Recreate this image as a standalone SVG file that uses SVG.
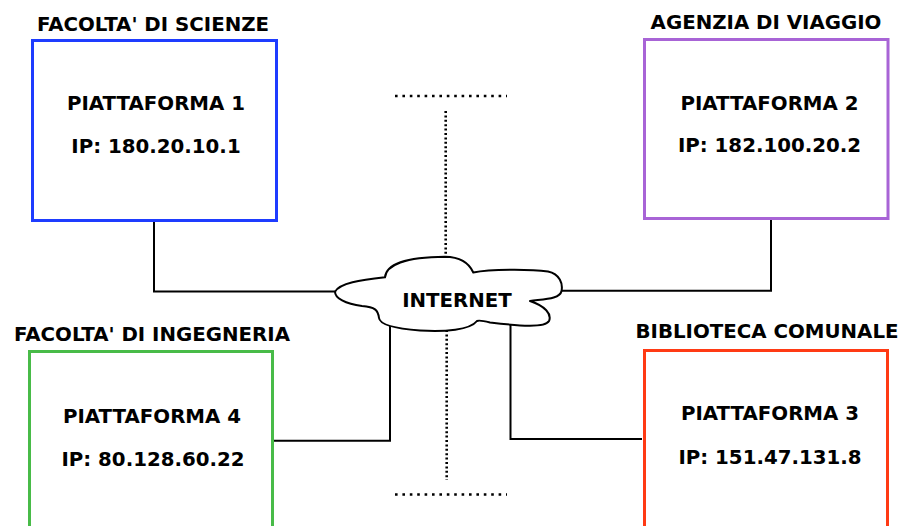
<svg xmlns="http://www.w3.org/2000/svg" width="898" height="526" viewBox="0 0 898 526">
  <style>
    text { font-family: "DejaVu Sans", Verdana, sans-serif; font-weight: bold; font-size: 19.8px; fill: #000; text-anchor: middle; }
    .box { fill: #fff; stroke-width: 3; }
    .link { fill: none; stroke: #000; stroke-width: 2; }
    .dots { fill: none; stroke: #000; stroke-width: 2.6; }
    .cloud { fill: #fff; stroke: #000; stroke-width: 2; stroke-linejoin: round; }
  </style>
  <rect width="898" height="526" fill="#fff"/>

  <!-- dotted separators -->
  <g id="separators">
    <line class="dots" x1="395" y1="96" x2="507" y2="96" stroke-dasharray="2.6 4.8"/>
    <line class="dots" x1="445.7" y1="111" x2="445.7" y2="257" stroke-dasharray="2 2.4"/>
    <line class="dots" x1="446.7" y1="330" x2="446.7" y2="480" stroke-dasharray="2 2.4"/>
    <line class="dots" x1="395" y1="494.5" x2="507" y2="494.5" stroke-dasharray="2.6 4.8"/>
  </g>

  <!-- connectors -->
  <g id="connectors">
    <path class="link" d="M154,222 V291.5 H337"/>
    <path class="link" d="M771,220 V290.7 H560"/>
    <path class="link" d="M273,440.7 H390 V324"/>
    <path class="link" d="M642,439 H510.5 V323"/>
  </g>

  <!-- internet cloud -->
  <g id="internet">
    <path class="cloud" d="M335,291.7
      C340,283 360,280 385,277.3
      C386,265 405,257 445,256.7
      C462,257 470,265 473.3,272.5
      C490,269 530,269 548,271.5
      C560,274 563,284 561.5,291
      C560,299 545,299 530,301
      C545,306 552,314 549,321
      C545,328 520,326 490,322.5
      C484,321 479,320 477,321
      C470,330 445,332 420,330.5
      C400,329 380,326 379,318
      C378,310 375,307 362,306
      C345,304 335,298 335,291.7 Z"/>
    <text x="457" y="306.7">INTERNET</text>
  </g>

  <g id="piattaforma1">
    <text x="153" y="31">FACOLTA' DI SCIENZE</text>
    <rect class="box" x="32.5" y="40.5" width="244" height="180" stroke="#1e3cff"/>
    <text x="156" y="110">PIATTAFORMA 1</text>
    <text x="156" y="153.3">IP: 180.20.10.1</text>
  </g>

  <g id="piattaforma2">
    <text x="766" y="29">AGENZIA DI VIAGGIO</text>
    <rect class="box" x="644.5" y="39.5" width="243.5" height="179" stroke="#a864d6"/>
    <text x="769.5" y="110">PIATTAFORMA 2</text>
    <text x="769.5" y="151.7">IP: 182.100.20.2</text>
  </g>

  <g id="piattaforma3">
    <text x="767" y="338">BIBLIOTECA COMUNALE</text>
    <rect class="box" x="644.5" y="350.5" width="243" height="200" stroke="#ff3a14"/>
    <text x="770" y="420">PIATTAFORMA 3</text>
    <text x="770" y="464">IP: 151.47.131.8</text>
  </g>

  <g id="piattaforma4">
    <text x="152" y="341">FACOLTA' DI INGEGNERIA</text>
    <rect class="box" x="29.5" y="351.5" width="243" height="200" stroke="#48bb48"/>
    <text x="152" y="422.7">PIATTAFORMA 4</text>
    <text x="153" y="466">IP: 80.128.60.22</text>
  </g>
</svg>
